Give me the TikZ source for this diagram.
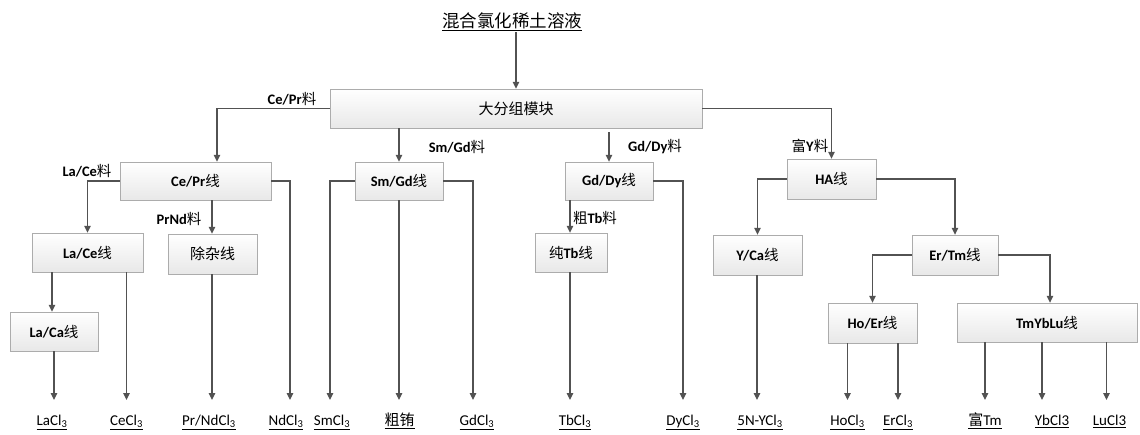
\documentclass[tikz,border=0pt]{standalone}
\usepackage{fontspec}
\setmainfont{Carlito}
\newfontfamily\cjk{Noto Sans CJK SC}
\usetikzlibrary{arrows.meta,shadows}
\newcommand\zh[1]{{\cjk\mdseries #1}}
\begin{document}
\begin{tikzpicture}[x=1pt,y=-1pt,
  box/.style={draw=gray!65, top color=white, bottom color=gray!18, inner sep=0pt,
    font=\fontsize{14.5}{16}\selectfont\bfseries,
    drop shadow={shadow xshift=1.2pt, shadow yshift=-1.2pt, fill=gray!40, opacity=0.6}},
  arr/.style={draw=black!68, line width=1.1pt, -{Triangle[length=7pt,width=6.5pt]}},
  feed/.style={font=\fontsize{14.5}{16}\selectfont\bfseries, inner sep=0pt},
  prod/.style={font=\fontsize{15}{17}\selectfont, anchor=north, inner xsep=0pt, inner ysep=0pt, text height=25pt, text depth=4pt},
]
\useasboundingbox (0,0) rectangle (1140,434);
% title and main box
\node[inner sep=1pt] (title) at (512,22) {\fontsize{17.5}{20}\selectfont\underline{\zh{混合氯化稀土溶液}}};
\node[box, minimum width=372pt, minimum height=39pt, font=\fontsize{15}{17}\selectfont] (big) at (516,108.5) {\zh{大分组模块}};
% second level
\node[box, minimum width=151pt, minimum height=38pt] (cepr) at (195.5,181) {Ce/Pr\zh{线}};
\node[box, minimum width=88pt, minimum height=38pt] (smgd) at (399,181) {Sm/Gd\zh{线}};
\node[box, minimum width=88pt, minimum height=38pt] (gddy) at (609,181) {Gd/Dy\zh{线}};
\node[box, minimum width=89pt, minimum height=40pt] (ha) at (831.5,179) {HA\zh{线}};
% third level
\node[box, minimum width=111pt, minimum height=39pt] (lace) at (87.5,252.5) {La/Ce\zh{线}};
\node[box, minimum width=89pt, minimum height=40pt, font=\fontsize{15}{17}\selectfont] (chuza) at (212.5,254) {\zh{除杂线}};
\node[box, minimum width=72pt, minimum height=39pt] (chuntb) at (571,252.5) {\zh{纯}Tb\zh{线}};
\node[box, minimum width=89pt, minimum height=40pt] (yca) at (757.5,255) {Y/Ca\zh{线}};
\node[box, minimum width=86pt, minimum height=40pt] (ertm) at (955,255) {Er/Tm\zh{线}};
% fourth level
\node[box, minimum width=88pt, minimum height=39pt] (laca) at (54,331.5) {La/Ca\zh{线}};
\node[box, minimum width=89pt, minimum height=40pt] (hoer) at (872.5,323) {Ho/Er\zh{线}};
\node[box, minimum width=180pt, minimum height=39pt] (tmyblu) at (1047,322.5) {TmYbLu\zh{线}};
% products
\node[prod] (lacl) at (52,400) {\underline{LaCl\textsubscript{3}}};
\node[prod] (cecl) at (126.5,400) {\underline{CeCl\textsubscript{3}}};
\node[prod] (prnd) at (209,400) {\underline{Pr/NdCl\textsubscript{3}}};
\node[prod] (ndcl) at (286,400) {\underline{NdCl\textsubscript{3}}};
\node[prod] (smcl) at (332,400) {\underline{SmCl\textsubscript{3}}};
\node[prod] (cueu) at (399.5,400) {\underline{\zh{粗铕}}};
\node[prod] (gdcl) at (477,400) {\underline{GdCl\textsubscript{3}}};
\node[prod] (tbcl) at (575,400) {\underline{TbCl\textsubscript{3}}};
\node[prod] (dycl) at (683,400) {\underline{DyCl\textsubscript{3}}};
\node[prod] (ycl) at (760,400) {\underline{5N-YCl\textsubscript{3}}};
\node[prod] (hocl) at (847.5,400) {\underline{HoCl\textsubscript{3}}};
\node[prod] (ercl) at (898,400) {\underline{ErCl\textsubscript{3}}};
\node[prod] (futm) at (985,400) {\underline{\zh{富}Tm}};
\node[prod] (ybcl) at (1052,400) {\underline{YbCl3}};
\node[prod] (lucl) at (1109.5,400) {\underline{LuCl3}};
% feed labels
\node[feed] (fcepr) at (292,99) {Ce/Pr\zh{料}};
\node[feed] (fsmgd) at (457,147) {Sm/Gd\zh{料}};
\node[feed] (fgddy) at (655,147) {Gd/Dy\zh{料}};
\node[feed] (fy) at (810,146) {\zh{富}Y\zh{料}};
\node[feed] (flace) at (87,171) {La/Ce\zh{料}};
\node[feed] (fprnd) at (179,219) {PrNd\zh{料}};
\node[feed] (ftb) at (595,218) {\zh{粗}Tb\zh{料}};
% connectors
\draw[arr] (title.south -| big.north) -- (big.north);
\draw[arr] (big.west) -| ([xshift=21.5pt]cepr.north);
\draw[arr] (big.east) -| (ha.north);
\draw[arr] (smgd.north |- big.south) -- (smgd.north);
\draw[arr, shorten <=4pt] (gddy.north |- big.south) -- (gddy.north);
\draw[arr] (cepr.west) -| (lace.north);
\draw[arr] (cepr.east) -| ([xshift=4pt]ndcl.north);
\draw[arr] ([xshift=-0.5pt]chuza.north |- cepr.south) -- ([xshift=-0.5pt]chuza.north);
\draw[arr] ([xshift=-2pt]laca.north |- lace.south) -- ([xshift=-2pt]laca.north);
\draw[arr] (cecl.north |- lace.south) -- (cecl.north);
\draw[arr] ([xshift=2pt]lacl.north |- laca.south) -- ([xshift=2pt]lacl.north);
\draw[arr] ([xshift=3pt]prnd.north |- chuza.south) -- ([xshift=3pt]prnd.north);
\draw[arr] (smgd.west) -| ([xshift=-2pt]smcl.north);
\draw[arr] ([xshift=-0.5pt]cueu.north |- smgd.south) -- ([xshift=-0.5pt]cueu.north);
\draw[arr] (smgd.east) -| ([xshift=-4pt]gdcl.north);
\draw[arr] (gddy.east) -| (dycl.north);
\draw[arr] ([xshift=-1pt]chuntb.north |- gddy.south) -- ([xshift=-1pt]chuntb.north);
\draw[arr] ([xshift=-5pt]tbcl.north |- chuntb.south) -- ([xshift=-5pt]tbcl.north);
\draw[arr] (ha.west) -| (yca.north);
\draw[arr] (ha.east) -| (ertm.north);
\draw[arr] ([xshift=-3pt]ycl.north |- yca.south) -- ([xshift=-3pt]ycl.north);
\draw[arr] (ertm.west) -| (hoer.north);
\draw[arr] (ertm.east) -| ([xshift=3pt]tmyblu.north);
\draw[arr] (hocl.north |- hoer.south) -- (hocl.north);
\draw[arr] (ercl.north |- hoer.south) -- (ercl.north);
\draw[arr] (futm.north |- tmyblu.south) -- (futm.north);
\draw[arr] ([xshift=-10pt]ybcl.north |- tmyblu.south) -- ([xshift=-10pt]ybcl.north);
\draw[arr] ([xshift=-3pt]lucl.north |- tmyblu.south) -- ([xshift=-3pt]lucl.north);
\end{tikzpicture}
\end{document}
